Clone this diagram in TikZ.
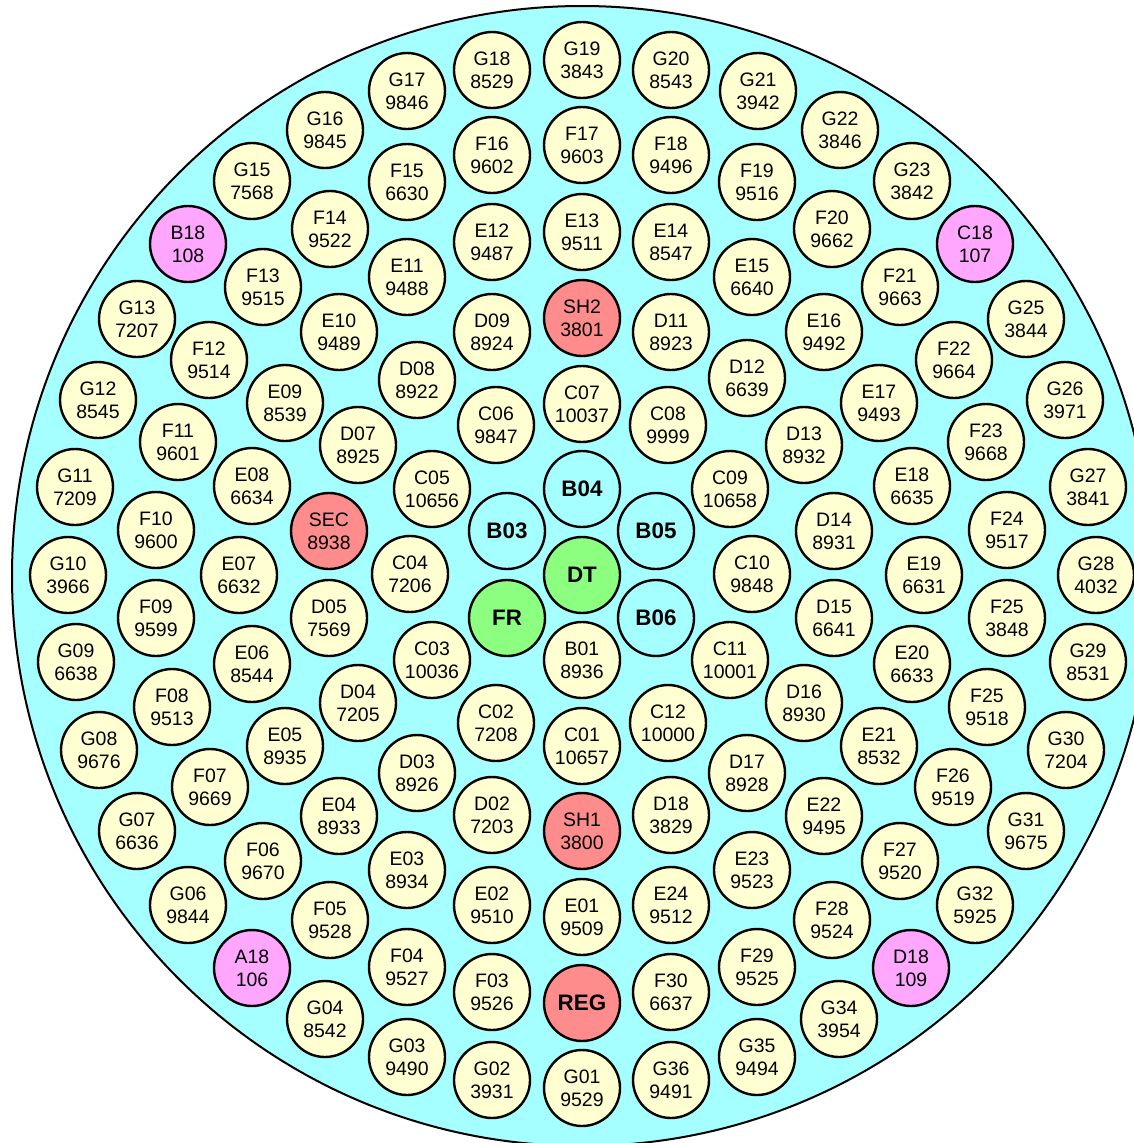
\documentclass[tikz,border=0pt]{standalone}
\usepackage{fontspec}
\setmainfont{Liberation Sans}
\usetikzlibrary{positioning}

\definecolor{coolant}{HTML}{A6FFFF}
\definecolor{fuel}{HTML}{FFFFD2}
\definecolor{graphite}{HTML}{FFA6FF}
\definecolor{control}{HTML}{FF8C8C}
\definecolor{transient}{HTML}{8CFF80}

\begin{document}
\begin{tikzpicture}[x=0.75pt,y=-0.75pt,
			every node/.style={
				draw,
				circle,
				line width=1.8pt,
				inner sep=0pt,
				align=center,
				minimum size=57pt,
				fill=fuel,
				font=\fontsize{14.6}{17.2}\selectfont},
			blade/.style={fill=control},
			rodA/.style={fill=graphite},
			rodB/.style={fill=transient,font=\fontsize{16.8}{19}\selectfont\bfseries},
			hole/.style={fill=coolant,font=\fontsize{16.8}{19}\selectfont\bfseries}]
			
			\clip (0,0) rectangle (1134,1143);
			
			\node[fill=coolant,line width=1.5pt,minimum size=855pt] (core) at (582,576) {};
			
			\node (g19) at (582,60) {G19\\3843};
			\node (g18) at (492,70) {G18\\8529};
			\node (g20) at (671,70) {G20\\8543};
			\node (g17) at (407,91) {G17\\9846};
			\node (g21) at (758,91) {G21\\3942};
			\node (g16) at (325,130) {G16\\9845};
			\node (g22) at (840,130) {G22\\3846};
			\node (g15) at (252,181) {G15\\7568};
			\node (g23) at (912,181) {G23\\3842};
			\node (g13) at (137,319) {G13\\7207};
			\node (g25) at (1026,319) {G25\\3844};
			\node (g12) at (98,400) {G12\\8545};
			\node (g26) at (1065,400) {G26\\3971};
			\node (g11) at (75,487) {G11\\7209};
			\node (g27) at (1088,487) {G27\\3841};
			\node (g10) at (68,575) {G10\\3966};
			\node (g28) at (1096,575) {G28\\4032};
			\node (g09) at (76,662) {G09\\6638};
			\node (g29) at (1088,662) {G29\\8531};
			\node (g08) at (99,750) {G08\\9676};
			\node (g30) at (1066,750) {G30\\7204};
			\node (g07) at (137,831) {G07\\6636};
			\node (g31) at (1026,831) {G31\\9675};
			\node (g06) at (188,905) {G06\\9844};
			\node (g32) at (975,905) {G32\\5925};
			\node (g04) at (325,1019) {G04\\8542};
			\node (g34) at (839,1019) {G34\\3954};
			\node (g03) at (407,1057) {G03\\9490};
			\node (g35) at (757,1057) {G35\\9494};
			\node (g02) at (492,1080) {G02\\3931};
			\node (g36) at (671,1080) {G36\\9491};
			\node (g01) at (582,1088) {G01\\9529};
			
			\node[rodA] (b18) at (188,244) {B18\\108};
			\node[rodA] (c18) at (975,244) {C18\\107};
			\node[rodA] (a18) at (252,968) {A18\\106};
			\node[rodA] (d18r) at (911,968) {D18\\109};
			
			\node (f17) at (582,145) {F17\\9603};
			\node (f16) at (492,155) {F16\\9602};
			\node (f18) at (671,155) {F18\\9496};
			\node (f15) at (407,182) {F15\\6630};
			\node (f19) at (757,182) {F19\\9516};
			\node (f14) at (330,229) {F14\\9522};
			\node (f20) at (832,229) {F20\\9662};
			\node (f13) at (263,287) {F13\\9515};
			\node (f21) at (900,287) {F21\\9663};
			\node (f12) at (209,360) {F12\\9514};
			\node (f22) at (954,360) {F22\\9664};
			\node (f11) at (178,442) {F11\\9601};
			\node (f23) at (986,442) {F23\\9668};
			\node (f10) at (156,530) {F10\\9600};
			\node (f24) at (1007,530) {F24\\9517};
			\node (f09) at (156,618) {F09\\9599};
			\node (f25) at (1007,618) {F25\\3848};
			\node (f08) at (172,707) {F08\\9513};
			\node (f25b) at (987,707) {F25\\9518};
			\node (f07) at (210,787) {F07\\9669};
			\node (f26) at (953,787) {F26\\9519};
			\node (f06) at (263,861) {F06\\9670};
			\node (f27) at (900,861) {F27\\9520};
			\node (f05) at (330,920) {F05\\9528};
			\node (f28) at (832,920) {F28\\9524};
			\node (f04) at (407,967) {F04\\9527};
			\node (f29) at (757,967) {F29\\9525};
			\node (f03) at (492,992) {F03\\9526};
			\node (f30) at (671,992) {F30\\6637};
			
			\node (e13) at (582,232) {E13\\9511};
			\node (e12) at (492,242) {E12\\9487};
			\node (e14) at (671,242) {E14\\8547};
			\node (e11) at (407,277) {E11\\9488};
			\node (e15) at (752,277) {E15\\6640};
			\node (e10) at (339,332) {E10\\9489};
			\node (e16) at (824,332) {E16\\9492};
			\node (e09) at (285,403) {E09\\8539};
			\node (e17) at (879,403) {E17\\9493};
			\node (e08) at (252,486) {E08\\6634};
			\node (e18) at (912,486) {E18\\6635};
			\node (e07) at (239,575) {E07\\6632};
			\node (e19) at (924,575) {E19\\6631};
			\node (e06) at (252,664) {E06\\8544};
			\node (e20) at (912,664) {E20\\6633};
			\node (e05) at (285,746) {E05\\8935};
			\node (e21) at (879,746) {E21\\8532};
			\node (e04) at (339,816) {E04\\8933};
			\node (e22) at (824,816) {E22\\9495};
			\node (e03) at (407,870) {E03\\8934};
			\node (e23) at (752,870) {E23\\9523};
			\node (e02) at (492,905) {E02\\9510};
			\node (e24) at (671,905) {E24\\9512};
			\node (e01) at (582,917) {E01\\9509};
			
			\node (d09) at (492,332) {D09\\8924};
			\node (d11) at (671,332) {D11\\8923};
			\node (d08) at (417,380) {D08\\8922};
			\node (d12) at (747,378) {D12\\6639};
			\node (d07) at (358,445) {D07\\8925};
			\node (d13) at (804,445) {D13\\8932};
			\node (d14) at (834,531) {D14\\8931};
			\node (d05) at (329,618) {D05\\7569};
			\node (d15) at (834,618) {D15\\6641};
			\node (d04) at (358,703) {D04\\7205};
			\node (d16) at (804,703) {D16\\8930};
			\node (d03) at (417,773) {D03\\8926};
			\node (d17) at (747,773) {D17\\8928};
			\node (d02) at (492,815) {D02\\7203};
			\node (d18) at (671,815) {D18\\3829};
			
			\node[blade] (sh2) at (582,318) {SH2\\3801};
			\node[blade] (sec) at (329,531) {SEC\\8938};
			\node[blade] (sh1) at (582,831) {SH1\\3800};
			\node[blade,font=\fontsize{16.8}{19}\selectfont\bfseries] (reg) at (582,1003) {REG};
			
			\node (c07) at (582,404) {C07\\10037};
			\node (c06) at (496,425) {C06\\9847};
			\node (c08) at (668,425) {C08\\9999};
			\node (c05) at (432,489) {C05\\10656};
			\node (c09) at (730,489) {C09\\10658};
			\node (c04) at (410,574) {C04\\7206};
			\node (c10) at (752,574) {C10\\9848};
			\node (c03) at (432,660) {C03\\10036};
			\node (c11) at (730,660) {C11\\10001};
			\node (c02) at (496,723) {C02\\7208};
			\node (c12) at (668,723) {C12\\10000};
			\node (c01) at (582,746) {C01\\10657};
			
			\node[hole] (b04) at (582,489) {B04};
			\node[hole] (b03) at (507,531) {B03};
			\node[hole] (b05) at (656,531) {B05};
			\node[hole] (b06) at (656,618) {B06};
			\node[rodB] (dt) at (582,575) {DT};
			\node[rodB] (fr) at (507,618) {FR};
			\node (b01) at (582,660) {B01\\8936};
			
		\end{tikzpicture}
\end{document}
